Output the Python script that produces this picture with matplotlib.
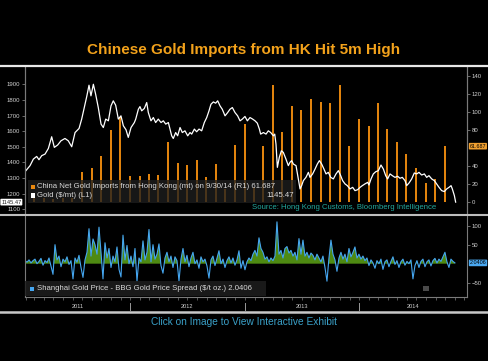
import numpy as np
import pandas as pd
import matplotlib
matplotlib.use("Agg")
import matplotlib.pyplot as plt
import matplotlib.transforms as mtransforms
from matplotlib.lines import Line2D
from matplotlib.patches import Rectangle

plt.rcParams['font.family'] = ['Liberation Sans', 'DejaVu Sans']

TITLE = "Chinese Gold Imports from HK Hit 5m High"
FOOTER = "Click on Image to View Interactive Exhibit"
SOURCE = "Source: Hong Kong Customs, Bloomberg Intelligence"
IMPORTS_LABEL = "China Net Gold Imports from Hong Kong (mt) on 9/30/14 (R1) 61.687"
GOLD_LABEL = "Gold ($/mt) (L1)"
GOLD_LAST = "1145.47"
SPREAD_LABEL = "Shanghai Gold Price - BBG Gold Price Spread ($/t oz.) 2.0406"
YEARS = [2011, 2012, 2013, 2014]

# gold price, years since 2011-01-01
gold_yr = [0.083, 0.127, 0.156, 0.185, 0.205, 0.229, 0.258, 0.287, 0.316, 0.339,
           0.368, 0.397, 0.432, 0.461, 0.491, 0.520, 0.555, 0.578, 0.601, 0.622,
           0.642, 0.659, 0.680, 0.700, 0.723, 0.747, 0.767, 0.788, 0.811, 0.834,
           0.854, 0.875, 0.898, 0.921, 0.942, 0.965, 0.985, 1.009, 1.038,
           1.050, 1.073, 1.087, 1.102, 1.125, 1.146, 1.160, 1.183, 1.204, 1.224,
           1.247, 1.271, 1.291, 1.312, 1.335, 1.349, 1.364, 1.378, 1.399, 1.416,
           1.437, 1.457, 1.480, 1.504, 1.524, 1.539, 1.562, 1.582, 1.603, 1.626,
           1.649, 1.670, 1.690, 1.707, 1.728, 1.748, 1.766, 1.786, 1.806, 1.830,
           1.853, 1.873, 1.894, 1.917, 1.940, 1.961, 1.981, 2.004,
           2.025, 2.048, 2.071, 2.092, 2.112, 2.130, 2.141, 2.165, 2.188, 2.208,
           2.229, 2.252, 2.264, 2.275, 2.287, 2.304, 2.322, 2.339, 2.362, 2.383,
           2.397, 2.412, 2.427, 2.450, 2.470, 2.485, 2.499, 2.514, 2.537, 2.558,
           2.572, 2.595, 2.616, 2.636, 2.654, 2.674, 2.694, 2.712, 2.732, 2.753,
           2.776, 2.799, 2.820, 2.840, 2.857, 2.878, 2.898, 2.921, 2.945, 2.965,
           2.988, 3.009, 3.029, 3.052, 3.076, 3.087, 3.105, 3.125, 3.146, 3.169,
           3.192, 3.213, 3.233, 3.250, 3.271, 3.291, 3.314, 3.338, 3.358, 3.378,
           3.402, 3.416, 3.437, 3.460, 3.483, 3.504, 3.524, 3.547, 3.571, 3.591,
           3.611, 3.635, 3.658, 3.678, 3.699, 3.722, 3.745, 3.766, 3.786, 3.804,
           3.815, 3.833, 3.844]
gold_px = [1340, 1379, 1421, 1438, 1417, 1443, 1453, 1489, 1564, 1496,
           1511, 1538, 1553, 1538, 1500, 1591, 1617, 1677, 1751, 1821,
           1894, 1826, 1900, 1836, 1751, 1645, 1623, 1677, 1666, 1762,
           1794, 1766, 1677, 1698, 1634, 1609, 1560, 1623, 1655,
           1677, 1740, 1757, 1730, 1745, 1783, 1719, 1666, 1687, 1655,
           1677, 1655, 1666, 1645, 1655, 1613, 1570, 1553, 1591, 1570,
           1623, 1591, 1602, 1570, 1591, 1581, 1613, 1596, 1613, 1602,
           1655, 1687, 1730, 1772, 1787, 1779, 1794, 1762, 1740, 1698,
           1719, 1740, 1751, 1719, 1698, 1666, 1677, 1694,
           1666, 1687, 1677, 1666, 1651, 1613, 1581, 1591, 1581, 1602,
           1591, 1570, 1581, 1517, 1368, 1432, 1474, 1464, 1421, 1379,
           1400, 1411, 1389, 1379, 1294, 1230, 1251, 1283, 1304, 1336,
           1304, 1326, 1357, 1389, 1411, 1389, 1357, 1326, 1336, 1304,
           1294, 1326, 1347, 1315, 1283, 1262, 1251, 1230, 1240, 1219,
           1225, 1240, 1251, 1262, 1272, 1255, 1294, 1326, 1340, 1347,
           1383, 1357, 1315, 1294, 1326, 1315, 1304, 1311, 1298, 1304,
           1283, 1251, 1268, 1294, 1332, 1326, 1336, 1319, 1326, 1304,
           1315, 1294, 1283, 1262, 1240, 1219, 1213, 1230, 1240, 1251,
           1230, 1187, 1145.47]

# monthly net imports from Hong Kong, month ends Feb 2011 .. Sep 2014
import_months = pd.date_range("2011-02-28", "2014-09-30", freq="ME")
imports_mt = [4, 4, 3, 4, 4,
              33, 37, 51, 80, 94, 28,
              28, 31, 30, 66, 43, 41, 46, 27, 42, 14, 63, 86,
              16, 62, 130, 77, 106, 102, 114, 111, 110, 130, 62, 92,
              84, 110, 81, 66, 53, 37, 21, 25, 61.687]

# Shanghai - BBG spread, sampled every ~6 days from late Jan 2011 to early Nov 2014
spread = [8, 4, 10, 2, 8, 12, 0, 6, 14, -4,
          8, 3, 15, -6, -28, 50, 10, 20, -8, 12,
          5, 18, -2, 8, -40, 15, 4, 22, -10, -36,
          10, 30, 92, 20, 65, 50, 25, 96, 30, -40,
          55, 15, 40, -10, 20, 5, 44, -15, -35, 75,
          10, 48, 0, 20, -8, 40, -46, 15, 5, 60,
          10, 30, 90, 5, 50, 12, 25, 52, -5, -25,
          15, 30, 5, 20, -10, 18, 8, -46, 12, 40,
          5, 22, -8, 15, 30, 0, 10, -12, 18, 5,
          12, -6, -38, 10, 20, -5, 15, 34, 0, 12,
          -10, 8, 18, 2, 15, -4, 10, 34, -12, 8,
          -16, 5, 15, 8, 25, 35, 20, 68, 40, 30,
          12, 18, 5, 15, 8, 20, 110, 25, 35, 15,
          40, 45, 28, 35, 20, 30, 10, 66, 25, 62,
          20, 30, 15, 28, 22, 10, 25, 15, 5, 20,
          -10, -46, 15, 62, 25, 10, -20, 15, 30, 12,
          25, 5, 40, 18, 30, 44, 15, 25, 12, 20,
          8, 15, -5, 10, 2, -12, 8, 0, 12, -15,
          5, 10, -8, 6, 18, -2, 8, -10, 5, 12,
          -4, 6, 0, 10, -40, -5, 8, -10, 6, 12,
          -8, 5, 10, -6, 8, 14, 2, 12, 6, 18,
          30, 5, -10, 12, 6, 2.0406]
spread_first, spread_last = 2011.083, 2014.838


def dec_year(dates):
    days = np.where(dates.is_leap_year, 366, 365)
    return dates.year + dates.dayofyear / days


def fx(x):
    return x / 488


def fy(y):
    return 1 - y / 361


fig = plt.figure(figsize=(4.88, 3.61), dpi=100, facecolor="black")

x_lo = 2011 + 9.5 / 114.5
x_hi = 2011 + 451.5 / 114.5
grey = "#7a7a7a"
tick_txt = "#d0d0d0"

# top panel
ax1 = fig.add_axes([fx(25), fy(215), fx(442), 149 / 361])
ax1r = ax1.twinx()
ax1.set_zorder(ax1r.get_zorder() + 1)
ax1.patch.set_visible(False)
ax1r.patch.set_facecolor("black")

bar_t = dec_year(import_months)
ax1r.vlines(bar_t, 0, imports_mt, colors="#e8870e", lw=1.4)
ax1.plot(2011 + np.array(gold_yr), gold_px, color="white", lw=0.9)

ax1.set_xlim(x_lo, x_hi)
ax1.set_ylim(1063, 2017)
ax1r.set_ylim(-14.8, 150.8)
ax1.set_yticks(range(1100, 2000, 100))
ax1r.set_yticks([0, 20, 40, 80, 100, 120, 140])
ax1.set_xticks([])
for a in (ax1, ax1r):
    a.tick_params(axis="y", colors=grey, labelcolor=tick_txt, labelsize=4.3,
                  length=2, width=0.6, pad=1.5)
    for s in ("top", "bottom"):
        a.spines[s].set_visible(False)
    for s in ("left", "right"):
        a.spines[s].set_color(grey)
        a.spines[s].set_linewidth(0.8)

# bottom panel
ax2 = fig.add_axes([fx(25), fy(297), fx(442), 82 / 361], facecolor="black")
sp_t = np.linspace(spread_first, spread_last, len(spread))
sp = np.array(spread)
ax2.fill_between(sp_t, sp, 0, where=sp > 0, interpolate=True, color="#4e8a12", lw=0)
ax2.plot(sp_t, sp, color="#45a6f0", lw=0.8)
ax2.set_xlim(x_lo, x_hi)
ax2.set_ylim(-87.6, 128)
ax2.yaxis.tick_right()
ax2.set_yticks([-50, 50, 100])
ax2.tick_params(axis="y", colors=grey, labelcolor=tick_txt, labelsize=4.3,
                length=2, width=0.6, pad=1.5)
month_starts = dec_year(pd.date_range("2011-02-01", "2014-12-01", freq="MS"))
ax2.set_xticks([])
ax2.set_xticks(month_starts, minor=True)
ax2.tick_params(axis="x", which="minor", colors=grey, length=2, width=0.5)
ax2.spines["top"].set_visible(False)
for s in ("left", "right", "bottom"):
    ax2.spines[s].set_color(grey)
    ax2.spines[s].set_linewidth(0.8)

xform = ax2.get_xaxis_transform()
for yr in YEARS[1:]:
    ax2.plot([yr, yr], [-0.07, -0.16], transform=xform, color="#9a9a9a",
             lw=0.7, clip_on=False)
for yr in YEARS:
    mid = (max(yr, x_lo) + min(yr + 1, x_hi)) / 2
    ax2.text(mid, -0.12, str(yr), transform=xform, ha="center", va="center",
             fontsize=4.1, color=tick_txt)

# value boxes on the axes
blend1 = mtransforms.blended_transform_factory(ax1r.transAxes, ax1r.transData)
ax1r.text(1.006, imports_mt[-1], "61.687", transform=blend1, ha="left", va="center",
          fontsize=3.9, color="black",
          bbox=dict(boxstyle="round,pad=0.15", fc="#f0a030", ec="none"))
blend0 = mtransforms.blended_transform_factory(ax1.transAxes, ax1.transData)
ax1.text(-0.008, gold_px[-1], GOLD_LAST, transform=blend0, ha="right", va="center",
         fontsize=4.1, color="#222222",
         bbox=dict(boxstyle="round,pad=0.15", fc="white", ec="none"))
blend2 = mtransforms.blended_transform_factory(ax2.transAxes, ax2.transData)
ax2.text(1.006, spread[-1], "2.0406", transform=blend2, ha="left", va="center",
         fontsize=3.9, color="black",
         bbox=dict(boxstyle="round,pad=0.15", fc="#4aa8f0", ec="none"))

# legends
fig.add_artist(Rectangle((fx(28), fy(202.5)), fx(268), 23 / 361, transform=fig.transFigure,
                         fc="#1e1e1e", ec="none", alpha=0.78, zorder=3))
fig.add_artist(Rectangle((fx(31), fy(189)), fx(4), 4.5 / 361, transform=fig.transFigure,
                         fc="#e8870e", ec="none", zorder=4))
fig.add_artist(Rectangle((fx(31), fy(197.5)), fx(4), 4.5 / 361, transform=fig.transFigure,
                         fc="white", ec="none", zorder=4))
fig.text(fx(37), fy(186.8), IMPORTS_LABEL, fontsize=5.6, color="#d8d8d8", va="center", zorder=5)
fig.text(fx(37), fy(195.3), GOLD_LABEL, fontsize=5.6, color="#d8d8d8", va="center", zorder=5)
fig.text(fx(294), fy(195.3), GOLD_LAST, fontsize=5.6, color="#d8d8d8", va="center",
         ha="right", zorder=5)
fig.text(fx(252), fy(207.3), SOURCE, fontsize=5.6, color="#22a89e", va="center", zorder=5)

fig.add_artist(Rectangle((fx(25), fy(296)), fx(241), 15 / 361, transform=fig.transFigure,
                         fc="#1e1e1e", ec="none", alpha=0.85, zorder=3))
fig.add_artist(Rectangle((fx(30), fy(291)), fx(4), 4.5 / 361, transform=fig.transFigure,
                         fc="#45a6f0", ec="none", zorder=4))
fig.text(fx(37), fy(288.8), SPREAD_LABEL, fontsize=5.6, color="#d8d8d8", va="center", zorder=5)
fig.add_artist(Rectangle((fx(423), fy(291)), fx(6), 5 / 361, transform=fig.transFigure,
                         fc="#4a4a4a", ec="none", zorder=4))

# frame lines
for y, c, w in ((66, "#e8e8e8", 1.6), (215, "#bdbdbd", 1.5), (312, "#c8c8c8", 1.8)):
    fig.add_artist(Line2D([0, 1], [fy(y), fy(y)], transform=fig.transFigure,
                          color=c, lw=w, zorder=6))

fig.text(0.5, fy(50), TITLE, ha="center", va="center", fontsize=11, fontweight="bold",
         color="#f3a21b")
fig.text(0.5, fy(322), FOOTER, ha="center", va="center", fontsize=7.3, color="#3aa0c8")

fig.savefig("out.png", dpi=100, facecolor="black")
